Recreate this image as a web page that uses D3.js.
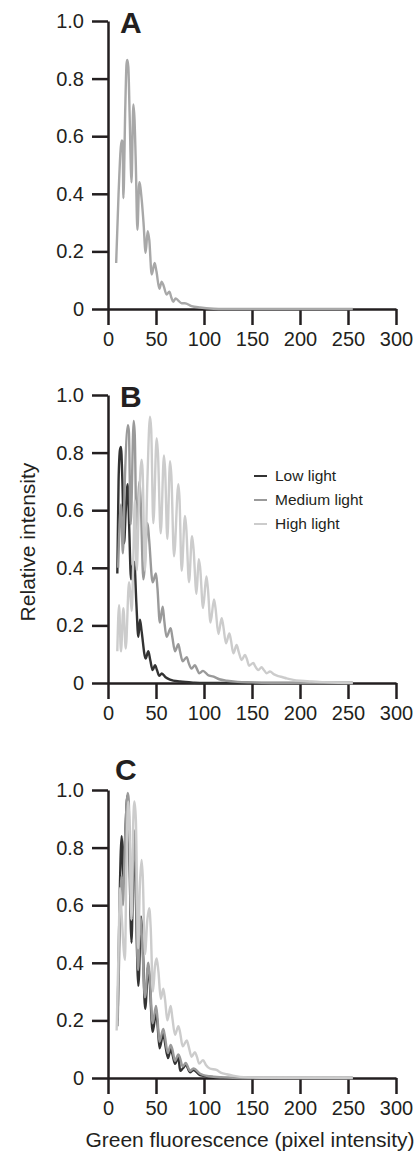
<!DOCTYPE html>
<html>
<head>
<meta charset="utf-8">
<script src="https://cdn.jsdelivr.net/npm/d3@7/dist/d3.min.js"></script>
<style>
  html, body { margin: 0; padding: 0; background: #fff; }
  svg { display: block; font-family: "Liberation Sans", Arial, Helvetica, sans-serif; }
</style>
</head>
<body>
<svg id="chart" width="419" height="1152"></svg>
<script>
// ---------- DATA ----------
const xTicks = [0, 50, 100, 150, 200, 250, 300];
const yTicks = [0, 0.2, 0.4, 0.6, 0.8, 1.0];
const panelLetters = ["A", "B", "C"];
const seriesNames = ["Low light", "Medium light", "High light"];
const xTitle = "Green fluorescence (pixel intensity)";
const yTitle = "Relative intensity";

// Panel A: single series [pixel intensity, relative intensity]
const seriesA = [[8.5,0.16],[11,0.4],[14.2,0.585],[15.3,0.58],[16,0.385],[18,0.7],[19.3,0.85],[20.1,0.865],[21.2,0.84],[22.5,0.68],[24.5,0.44],[26.4,0.71],[27.6,0.66],[29,0.5],[30.6,0.275],[32.6,0.44],[35.1,0.38],[37,0.3],[39.2,0.195],[41.3,0.27],[43,0.24],[45.5,0.12],[48.6,0.16],[50.5,0.13],[53.5,0.07],[55.9,0.095],[58,0.08],[61,0.05],[63.9,0.06],[66,0.04],[68,0.025],[70.5,0.037],[73,0.03],[76.7,0.02],[80,0.02],[87,0.01],[96,0.005],[110,0.001],[120,0],[255,0]];

// Panel B
const lowB = [[9.7,0.38],[11,0.7],[12.5,0.81],[13.5,0.82],[15,0.7],[16.7,0.485],[18.5,0.6],[20.5,0.69],[22,0.55],[24,0.36],[25.5,0.4],[27.4,0.42],[29.5,0.28],[31.6,0.16],[33.3,0.22],[35,0.18],[39.2,0.085],[42,0.11],[44,0.08],[46.5,0.045],[49,0.062],[51,0.045],[53.5,0.025],[56,0.033],[60,0.02],[64.6,0.012],[75,0.005],[90,0.001],[100,0],[255,0]];
const medB = [[10.5,0.4],[12,0.55],[13.5,0.62],[15.5,0.45],[17.5,0.7],[20.8,0.895],[21.8,0.87],[23.6,0.55],[26.8,0.91],[27.9,0.86],[29.8,0.5],[32.8,0.7],[34.2,0.62],[36.8,0.36],[41.2,0.555],[42.8,0.5],[46.5,0.35],[50,0.38],[51.5,0.33],[54,0.21],[57,0.265],[58.5,0.22],[61,0.16],[65.3,0.19],[67,0.16],[69.8,0.11],[73.3,0.135],[75,0.11],[77.8,0.075],[82,0.09],[84,0.07],[87,0.05],[90.6,0.062],[92.5,0.05],[95,0.034],[99,0.042],[104,0.028],[110,0.022],[116,0.013],[123.6,0.008],[135,0.004],[150,0.002],[170,0],[255,0]];
const highB = [[9.7,0.11],[11.5,0.27],[13.5,0.11],[16,0.26],[18.5,0.12],[21.9,0.35],[23,0.32],[24.7,0.25],[26.5,0.45],[28,0.635],[29.9,0.39],[32,0.6],[35,0.775],[36,0.74],[38.5,0.39],[41,0.7],[43.75,0.925],[45,0.88],[47.2,0.555],[50.7,0.85],[52,0.8],[54.9,0.52],[58.3,0.79],[59.5,0.74],[61.8,0.5],[64.6,0.77],[66,0.72],[68.75,0.44],[73.3,0.69],[74.5,0.64],[76.7,0.39],[80.2,0.58],[81.5,0.54],[84.4,0.35],[87.5,0.51],[89,0.47],[92.2,0.31],[94.5,0.43],[96,0.4],[99,0.26],[102.5,0.37],[104,0.33],[106.8,0.21],[110.4,0.29],[112,0.26],[115,0.17],[118.4,0.225],[120,0.2],[122.9,0.138],[126.4,0.172],[128,0.15],[130.6,0.103],[134,0.132],[136,0.11],[139.2,0.08],[142.7,0.097],[144.5,0.085],[147,0.06],[151.4,0.07],[153,0.06],[156.6,0.045],[160,0.055],[162,0.047],[165.3,0.034],[168.75,0.04],[173,0.03],[177.4,0.024],[182,0.02],[186,0.016],[193,0.011],[200,0.008],[212,0.005],[224,0.003],[240,0.001],[255,0]];

// Panel C
const lowC = [[10,0.2],[12,0.6],[14.2,0.84],[15,0.8],[16,0.69],[18,0.85],[20.3,0.98],[21.5,0.9],[24.5,0.47],[27,0.84],[28.5,0.7],[31.6,0.32],[34.5,0.56],[36,0.48],[38.7,0.24],[42,0.39],[43.5,0.33],[46.5,0.16],[50,0.225],[51.5,0.19],[53.7,0.103],[57.6,0.155],[59,0.13],[62.5,0.069],[65.3,0.1],[67,0.085],[69.8,0.049],[73.3,0.072],[75.2,0.025],[77.8,0.033],[81.25,0.045],[85.4,0.02],[89,0.028],[95.8,0.01],[110,0.003],[130,0],[255,0]];
const medC = [[10,0.18],[12.5,0.55],[14,0.7],[15.5,0.6],[17.5,0.8],[20.5,0.99],[21.5,0.97],[24.2,0.55],[27,0.86],[28.5,0.75],[31.3,0.375],[33.5,0.56],[35.5,0.48],[38.5,0.28],[42,0.4],[43.5,0.35],[46.5,0.19],[50,0.25],[51.5,0.21],[53.5,0.126],[57.6,0.17],[59,0.15],[62.3,0.087],[65.3,0.115],[67,0.1],[69.8,0.06],[73.3,0.082],[75,0.07],[77.8,0.04],[81,0.052],[85.4,0.025],[89,0.033],[96,0.015],[105,0.006],[120,0.002],[140,0],[255,0]];
const highC = [[9,0.165],[11,0.45],[12.5,0.66],[14,0.58],[17.7,0.41],[19,0.7],[21,0.96],[22.5,0.85],[24.5,0.55],[26,0.85],[27.5,0.96],[29,0.9],[31.5,0.45],[33,0.65],[35,0.757],[36.2,0.7],[38.5,0.43],[41,0.55],[43,0.59],[44.5,0.52],[46.8,0.3],[49,0.39],[50.7,0.415],[52.5,0.37],[55,0.275],[57.6,0.31],[59.5,0.27],[61.8,0.2],[65.3,0.25],[67,0.21],[69.8,0.15],[73.3,0.18],[75,0.16],[77.8,0.11],[82,0.13],[84,0.11],[87,0.074],[90.6,0.09],[92.5,0.075],[95,0.05],[99,0.062],[102,0.045],[106,0.033],[113,0.028],[118,0.018],[123.6,0.013],[130,0.008],[137.5,0.004],[160,0.001],[255,0]];

// ---------- STYLE / LAYOUT ----------
const ink = "#231f20";
const colors = { low: "#333333", med: "#9a9a9a", high: "#cccccc", single: "#a8a8a8" };
const fontTick = 20, fontTitle = 21, fontLegend = 15.5, fontLetter = 30;

const svg = d3.select("#chart");
const x = d3.scaleLinear().domain([0, 300]).range([108, 396]);

const panels = [
  { letter: panelLetters[0], top: 21, bottom: 309, series: [{ data: seriesA, color: colors.single }], letterX: 120, letterY: 33 },
  { letter: panelLetters[1], top: 395, bottom: 683, series: [
      { data: lowB, color: colors.low }, { data: medB, color: colors.med }, { data: highB, color: colors.high }], letterX: 120, letterY: 407 },
  { letter: panelLetters[2], top: 790, bottom: 1078, series: [
      { data: lowC, color: colors.low }, { data: medC, color: colors.med }, { data: highC, color: colors.high }], letterX: 115, letterY: 780 }
];

panels.forEach(p => {
  const y = d3.scaleLinear().domain([0, 1]).range([p.bottom, p.top]);
  const g = svg.append("g");

  const yAxis = d3.axisLeft(y).tickValues(yTicks)
    .tickFormat(d => d === 0 ? "0" : d3.format(".1f")(d))
    .tickSize(16).tickSizeOuter(0).tickPadding(8);
  const xAxis = d3.axisBottom(x).tickValues(xTicks)
    .tickFormat(d3.format("d"))
    .tickSize(16).tickSizeOuter(0).tickPadding(7);

  const gy = g.append("g").attr("transform", `translate(${x(0)},0)`).call(yAxis);
  const gx = g.append("g").attr("transform", `translate(0,${y(0)})`).call(xAxis);
  [gx, gy].forEach(ax => {
    ax.select(".domain").attr("stroke", ink).attr("stroke-width", 2.5);
    ax.selectAll(".tick line").attr("stroke", ink).attr("stroke-width", 2.5);
    ax.selectAll(".tick text").attr("fill", ink).style("font-size", fontTick + "px")
      .style("font-family", '"Liberation Sans", Arial, sans-serif');
  });

  const line = d3.line().x(d => x(d[0])).y(d => y(d[1])).curve(d3.curveMonotoneX);
  p.series.forEach(s => {
    g.append("path").datum(s.data)
      .attr("fill", "none").attr("stroke", s.color).attr("stroke-width", 2.4)
      .attr("stroke-linejoin", "round").attr("d", line);
  });

  g.append("text").attr("x", p.letterX).attr("y", p.letterY)
    .attr("fill", ink).style("font-size", fontLetter + "px").style("font-weight", "bold")
    .text(p.letter);
});

// Legend (panel B)
const legendColors = [colors.low, colors.med, colors.high];
const legendRowY = [476, 500, 524];
const lg = svg.append("g");
seriesNames.forEach((name, i) => {
  lg.append("line").attr("x1", 254).attr("x2", 267).attr("y1", legendRowY[i]).attr("y2", legendRowY[i])
    .attr("stroke", legendColors[i]).attr("stroke-width", 2);
  lg.append("text").attr("x", 275).attr("y", legendRowY[i]).attr("dy", "0.35em")
    .attr("fill", ink).style("font-size", fontLegend + "px").text(name);
});

// Axis titles
svg.append("text").attr("transform", "translate(35,542) rotate(-90)")
  .attr("text-anchor", "middle").attr("fill", ink).style("font-size", fontTitle + "px").text(yTitle);
svg.append("text").attr("x", 250).attr("y", 1147)
  .attr("text-anchor", "middle").attr("fill", ink).style("font-size", fontTitle + "px").text(xTitle);
</script>
</body>
</html>
